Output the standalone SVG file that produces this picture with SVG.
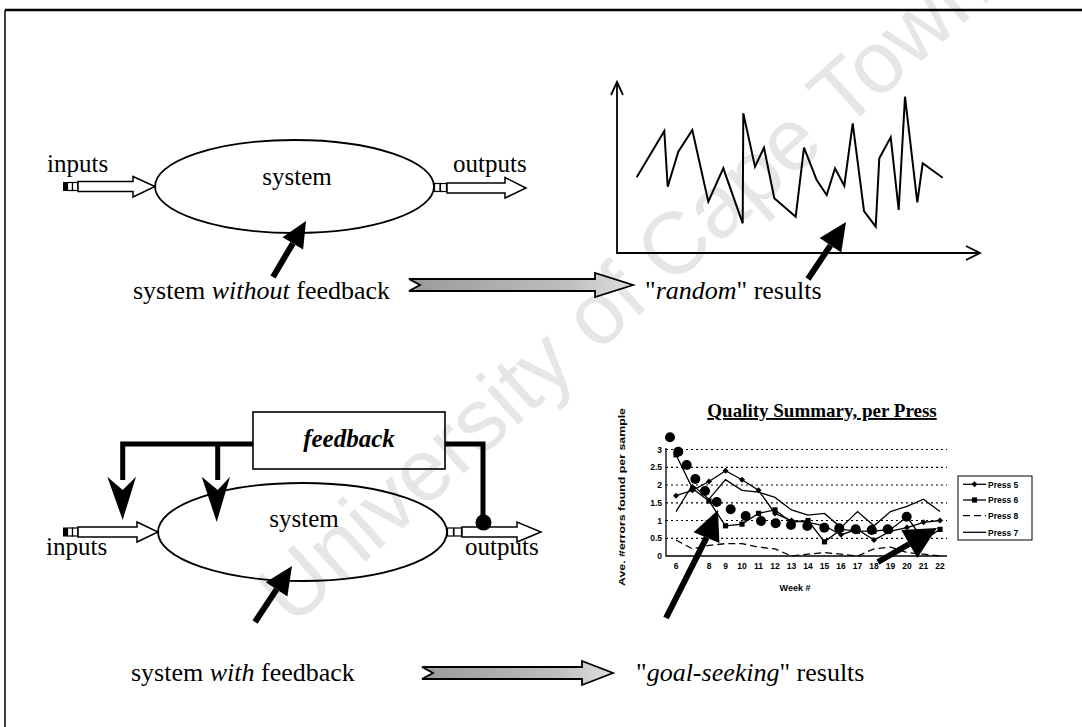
<svg xmlns="http://www.w3.org/2000/svg" width="1082" height="727" viewBox="0 0 1082 727">
<defs>
  <style>
    .lbl{font-family:"Liberation Serif","Times New Roman",serif;font-size:25px;fill:#000}
    .cap{font-family:"Liberation Serif","Times New Roman",serif;font-size:26px;fill:#000}
    .hollow{fill:#fff;stroke:#000;stroke-width:1.5;stroke-linejoin:miter}
    .plug{fill:#fff;stroke:#000;stroke-width:1.2}
    .sys{fill:none;stroke:#000;stroke-width:1.8}
    .ptr{stroke:#000;stroke-width:6;fill:none}
    .head{fill:#000}
    .fb{fill:none;stroke:#000;stroke-width:5}
    .grey{fill:url(#speckle);stroke:#000;stroke-width:1.8}
    .ax{stroke:#000;stroke-width:1.8;fill:none}
    .tiny{font-family:"Liberation Sans",Arial,sans-serif;font-weight:bold;font-size:8.5px;fill:#000}
    .grid{stroke:#000;stroke-width:1.2;stroke-dasharray:2 3}
    .series{fill:none;stroke:#000;stroke-width:1.3}
    .dot{fill:#000}
  </style>
  <linearGradient id="speckle" x1="0" x2="1" y1="0" y2="0">
    <stop offset="0" stop-color="#9a9a9a"/>
    <stop offset="0.7" stop-color="#bdbdbd"/>
    <stop offset="1" stop-color="#e0e0e0"/>
  </linearGradient>
  <marker id="diamond" markerUnits="userSpaceOnUse" markerWidth="8" markerHeight="8" viewBox="-4 -4 8 8" refX="0" refY="0">
    <path d="M0,-3 L3,0 L0,3 L-3,0 Z" fill="#000"/>
  </marker>
  <marker id="square" markerUnits="userSpaceOnUse" markerWidth="8" markerHeight="8" viewBox="-4 -4 8 8" refX="0" refY="0">
    <rect x="-2.6" y="-2.6" width="5.2" height="5.2" fill="#000"/>
  </marker>
</defs>

<rect width="1082" height="727" fill="#fff"/>

<!-- faint diagonal watermark -->
<text transform="translate(292,628) rotate(-42)" font-family="'Liberation Sans',Arial,sans-serif" font-size="88" fill="#e6e6e6">University of Cape Town</text>

<!-- page frame -->
<g id="frame">
  <line x1="5" y1="10" x2="1082" y2="10" stroke="#000" stroke-width="2.5"/>
  <line x1="5" y1="10" x2="5" y2="727" stroke="#000" stroke-width="1.5"/>
</g>

<!-- ===== upper half: system without feedback ===== -->
<g id="system-top">
  <ellipse class="sys" cx="294.5" cy="186.5" rx="139.5" ry="46.5"/>
  <text class="lbl" x="297" y="185" text-anchor="middle">system</text>
</g>

<g id="inputs-top">
  <text class="lbl" x="47" y="172">inputs</text>
  <rect x="63" y="182" width="4" height="9" fill="#000"/>
  <rect class="plug" x="67.5" y="182.5" width="5" height="8"/>
  <rect class="plug" x="72.5" y="182.5" width="5.5" height="8"/>
  <path class="hollow" d="M78,181.5 H133 V176.5 L155,186.5 L133,197 V191.5 H78 Z"/>
</g>

<g id="outputs-top">
  <text class="lbl" x="453" y="172">outputs</text>
  <rect class="plug" x="434.5" y="183.5" width="5.5" height="8"/>
  <rect class="plug" x="440.5" y="183.5" width="6" height="8"/>
  <path class="hollow" d="M447,183 H505 V177.5 L526,188 L505,198 V193 H447 Z"/>
</g>

<g id="chart-random">
  <path class="ax" d="M617,82 V253 H980"/>
  <path class="ax" d="M611,95 L617,82 L623,95"/>
  <path class="ax" d="M966,246 L980,253 L966,260"/>
  <polyline fill="none" stroke="#000" stroke-width="2" stroke-linejoin="miter" points="636.7,177.3 664.3,131 667.7,186.7 678.3,151.7 692.3,130 708.3,201.7 723.3,168.3 742.7,223.3 743.3,113.3 755,166.7 764,147.7 774.3,198.3 795.7,216.7 804,147.7 816.7,180 826.7,195 835,168.3 844.3,185.7 852.7,123.3 864,211 875.7,226.7 879.3,158.3 890.7,137.3 898.7,210 905,96.7 917.3,202.3 922.7,163.3 942.7,177.7"/>
</g>

<g id="caption-without">
  <text class="cap" x="133" y="299">system <tspan font-style="italic">without</tspan> feedback</text>
</g>

<g id="caption-random">
  <text class="cap" x="645" y="299">"<tspan font-style="italic">random</tspan>" results</text>
</g>

<!-- ===== lower half: system with feedback ===== -->
<g id="system-bottom">
  <ellipse class="sys" cx="302.5" cy="532" rx="144.5" ry="49"/>
  <text class="lbl" x="304" y="527" text-anchor="middle">system</text>
</g>

<g id="feedback">
  <rect x="253" y="412" width="192" height="57" fill="none" stroke="#000" stroke-width="1.6"/>
  <text x="349" y="447" text-anchor="middle" font-family="'Liberation Serif','Times New Roman',serif" font-size="25" font-weight="bold" font-style="italic">feedback</text>
</g>

<g id="inputs-bottom">
  <rect x="63" y="527.5" width="4" height="9" fill="#000"/>
  <rect class="plug" x="67.5" y="528" width="5" height="8"/>
  <rect class="plug" x="72.5" y="528" width="5.5" height="8"/>
  <path class="hollow" d="M78,527 H137 V522 L158,532 L137,542 V537 H78 Z"/>
  <text class="lbl" x="46" y="555">inputs</text>
</g>

<g id="outputs-bottom">
  <rect class="plug" x="447.5" y="528" width="6" height="8"/>
  <rect class="plug" x="454" y="528" width="7.5" height="8"/>
  <path class="hollow" d="M462,527 H517 V522 L541,532 L517,542 V537 H462 Z"/>
  <text class="lbl" x="465" y="555">outputs</text>
</g>

<g id="caption-with">
  <text class="cap" x="131" y="681">system <tspan font-style="italic">with</tspan> feedback</text>
</g>

<g id="caption-goal">
  <text class="cap" x="636" y="681">"<tspan font-style="italic">goal-seeking</tspan>" results</text>
</g>

<g id="chart-quality">
  <text x="822" y="417" text-anchor="middle" font-family="'Liberation Serif','Times New Roman',serif" font-size="19" font-weight="bold" text-decoration="underline">Quality Summary, per Press</text>
  <text class="tiny" transform="translate(625,497) rotate(-90)" text-anchor="middle" font-size="11" textLength="178" lengthAdjust="spacingAndGlyphs">Ave. #errors found per sample</text>
  <!-- grid -->
  <g>
    <line class="grid" x1="666" y1="449.5" x2="947" y2="449.5"/>
    <line class="grid" x1="666" y1="467.3" x2="947" y2="467.3"/>
    <line class="grid" x1="666" y1="485" x2="947" y2="485"/>
    <line class="grid" x1="666" y1="502.8" x2="947" y2="502.8"/>
    <line class="grid" x1="666" y1="520.5" x2="947" y2="520.5"/>
    <line class="grid" x1="666" y1="538.3" x2="947" y2="538.3"/>
  </g>
  <path d="M666,448 V556 H947" fill="none" stroke="#000" stroke-width="1.3"/>
  <g class="tiny" text-anchor="end">
    <text x="662" y="452.5">3</text>
    <text x="662" y="470.3">2.5</text>
    <text x="662" y="488">2</text>
    <text x="662" y="505.8">1.5</text>
    <text x="662" y="523.5">1</text>
    <text x="662" y="541.3">0.5</text>
    <text x="662" y="559">0</text>
  </g>
  <g class="tiny" text-anchor="middle">
    <text x="676" y="569">6</text><text x="692.5" y="569">7</text><text x="709" y="569">8</text>
    <text x="725.5" y="569">9</text><text x="742" y="569">10</text><text x="758.5" y="569">11</text>
    <text x="775" y="569">12</text><text x="791.5" y="569">13</text><text x="808" y="569">14</text>
    <text x="824.5" y="569">15</text><text x="841" y="569">16</text><text x="857.5" y="569">17</text>
    <text x="874" y="569">18</text><text x="890.5" y="569">19</text><text x="907" y="569">20</text>
    <text x="923.5" y="569">21</text><text x="940" y="569">22</text>
    <text x="795" y="591" font-size="9">Week #</text>
  </g>
  <!-- data series -->
  <polyline class="series" marker-start="url(#diamond)" marker-mid="url(#diamond)" marker-end="url(#diamond)" points="676,495.7 692.5,490.3 709,481.5 725.5,470.8 742,479.7 758.5,490.3 775,513.4 791.5,520.5 808,522.3 824.5,525.8 841,534.7 857.5,529.4 874,540 890.5,531.2 907,527.6 923.5,522.3 940,520.5"/>
  <polyline class="series" marker-start="url(#square)" marker-mid="url(#square)" marker-end="url(#square)" points="676,454.8 692.5,488.6 709,501 725.5,525.8 742,524.1 758.5,513.4 775,509.9 791.5,522.3 808,520.5 824.5,541.8 841,529.4 857.5,531.2 874,531.2 890.5,529.4 907,517 923.5,540 940,529.4"/>
  <polyline class="series" stroke-dasharray="7 4" points="676,540 692.5,548.9 709,545.4 725.5,543.6 742,543.6 758.5,547.1 775,548.9 791.5,556 808,554.2 824.5,552.5 841,554.2 857.5,556 874,548.9 890.5,547.1 907,552.5 923.5,554.2 940,556"/>
  <polyline class="series" points="676,511.6 692.5,485 709,499.2 725.5,479.7 742,490.3 758.5,492.1 775,497.4 791.5,509.9 808,515.2 824.5,513.4 841,527.6 857.5,511.6 874,525.8 890.5,511.6 907,506.3 923.5,499.2 940,511.6"/>
  <!-- trail of heavy dots -->
  <g class="dot">
    <circle cx="670" cy="437.3" r="5"/><circle cx="678.3" cy="451.7" r="5"/>
    <circle cx="686.7" cy="465" r="5"/><circle cx="695.3" cy="479" r="5"/>
    <circle cx="705" cy="491" r="5"/><circle cx="716.7" cy="502" r="5"/>
    <circle cx="730.7" cy="509.3" r="5"/><circle cx="745.7" cy="516" r="5"/>
    <circle cx="761" cy="521" r="5"/><circle cx="775.7" cy="523.3" r="5"/>
    <circle cx="791" cy="525" r="5"/><circle cx="807.3" cy="526" r="5"/>
    <circle cx="824.3" cy="527.7" r="5"/><circle cx="839.3" cy="528.3" r="5"/>
    <circle cx="855.7" cy="529.3" r="5"/><circle cx="871.7" cy="530" r="5"/>
    <circle cx="887.7" cy="529.3" r="5"/><circle cx="906.7" cy="516.7" r="5"/>
  </g>
  <!-- legend -->
  <g id="legend">
    <rect x="958" y="476" width="74" height="64" fill="#fff" stroke="#000" stroke-width="1"/>
    <polyline class="series" points="963,484.3 974.5,484.3 986,484.3" marker-mid="url(#diamond)"/>
    <polyline class="series" points="963,500 974.5,500 986,500" marker-mid="url(#square)"/>
    <line class="series" x1="963" y1="515.7" x2="986" y2="515.7" stroke-dasharray="7 4"/>
    <line class="series" x1="963" y1="532.3" x2="986" y2="532.3"/>
    <g class="tiny" font-size="9.5">
      <text x="988" y="487.5">Press 5</text>
      <text x="988" y="503.2">Press 6</text>
      <text x="988" y="518.9">Press 8</text>
      <text x="988" y="535.5">Press 7</text>
    </g>
  </g>
</g>

<!-- ===== connectors ===== -->
<g id="connectors">
  <!-- feedback loop lines -->
  <path class="fb" d="M253,444 H122.7 V480"/>
  <path class="fb" d="M217.7,444 V480"/>
  <path class="fb" d="M445,444 H483 V520"/>
  <circle cx="483.5" cy="522.5" r="8" fill="#000"/>
  <polygon class="head" points="122.7,520 107.3,476.7 122.7,490 136,476.7"/>
  <polygon class="head" points="216.7,522 201.7,476.7 217.7,490 230,476.7"/>

  <!-- black pointer arrows -->
  <line class="ptr" x1="273" y1="277" x2="292.8" y2="243.4"/>
  <polygon class="head" points="306,221 303.1,249.5 282.5,237.3"/>

  <line class="ptr" x1="808" y1="279" x2="830.5" y2="245.3"/>
  <polygon class="head" points="846,222 841.3,252.5 819.7,238.1"/>

  <line class="ptr" x1="255" y1="622" x2="276.6" y2="589.4"/>
  <polygon class="head" points="292,566 287.4,596.6 265.8,582.2"/>

  <line class="ptr" x1="666" y1="618" x2="706.5" y2="537.7" stroke-width="7"/>
  <polygon class="head" points="718,510 719.4,543.1 693.6,532.3"/>

  <line class="ptr" x1="878" y1="562" x2="909.3" y2="544" stroke-width="7"/>
  <polygon class="head" points="937,528 917.3,557.9 901.3,530.1"/>

  <!-- wide shaded arrows -->
  <path class="grey" d="M409,279 H595 V273 L633,285 L595,297 V291 H409 L420,285 Z"/>
  <path class="grey" d="M422,667 H582 V661 L613,673 L582,685 V679 H422 L433,673 Z"/>
</g>
</svg>
